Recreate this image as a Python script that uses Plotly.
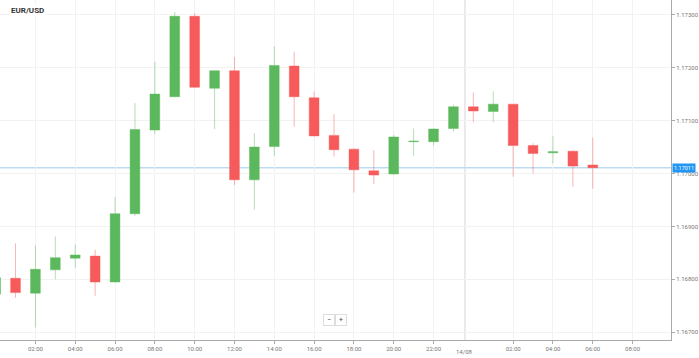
import plotly.graph_objects as go

hours = list(range(0, 31))
opens = [1.16772, 1.16802, 1.16774, 1.16818, 1.16840, 1.16844, 1.16795, 1.16924, 1.17082, 1.17145,
         1.17297, 1.17161, 1.17194, 1.16988, 1.17051, 1.17203, 1.17143, 1.17072, 1.17046, 1.17005,
         1.16999, 1.17060, 1.17060, 1.17085, 1.17126, 1.17117, 1.17131, 1.17053, 1.17039, 1.17042,
         1.17016]
highs = [1.16808, 1.16868, 1.16864, 1.16881, 1.16866, 1.16856, 1.16956, 1.17133, 1.17211, 1.17305,
         1.17303, 1.17194, 1.17220, 1.17076, 1.17240, 1.17230, 1.17155, 1.17112, 1.17047, 1.17044,
         1.17073, 1.17085, 1.17085, 1.17130, 1.17153, 1.17155, 1.17131, 1.17057, 1.17071, 1.17044,
         1.17068]
lows = [1.16767, 1.16765, 1.16709, 1.16800, 1.16822, 1.16769, 1.16794, 1.16920, 1.17074, 1.17144,
        1.17162, 1.17084, 1.16978, 1.16932, 1.17033, 1.17088, 1.17070, 1.17032, 1.16964, 1.16980,
        1.16998, 1.17033, 1.17053, 1.17079, 1.17097, 1.17097, 1.16994, 1.17000, 1.17019, 1.16975,
        1.16971]
closes = [1.16803, 1.16775, 1.16819, 1.16841, 1.16846, 1.16795, 1.16924, 1.17083, 1.17150, 1.17297,
          1.17163, 1.17194, 1.16988, 1.17050, 1.17204, 1.17145, 1.17071, 1.17045, 1.17007, 1.16997,
          1.17069, 1.17061, 1.17084, 1.17126, 1.17118, 1.17131, 1.17053, 1.17038, 1.17041, 1.17014,
          1.17011]

tick_hours = [2, 4, 6, 8, 10, 12, 14, 16, 18, 20, 22, 26, 28, 30, 32]
tick_labels = ["02:00", "04:00", "06:00", "08:00", "10:00", "12:00", "14:00", "16:00",
               "18:00", "20:00", "22:00", "02:00", "04:00", "06:00", "08:00"]
day_break = 23.58
day_label = "14/08"
price_ticks = [1.167, 1.168, 1.169, 1.170, 1.171, 1.172, 1.173]
price_labels = ["1.16700", "1.16800", "1.16900", "1.17000", "1.17100", "1.17200", "1.17300"]
current_price = 1.17011
title = "EUR/USD"

GREEN = "#5cb85c"
RED = "#f65a5a"

fig = go.Figure()
fig.add_trace(go.Candlestick(
    x=hours, open=opens, high=highs, low=lows, close=closes,
    increasing=dict(fillcolor=GREEN, line=dict(color="rgba(92,184,92,0.45)", width=1)),
    decreasing=dict(fillcolor=RED, line=dict(color="rgba(246,90,90,0.45)", width=1)),
    whiskerwidth=0, showlegend=False, hoverinfo="skip",
))

fig.add_shape(type="line", xref="x", yref="paper", x0=day_break, x1=day_break, y0=0, y1=1,
              line=dict(color="#d6d6d6", width=1), layer="below")
fig.add_shape(type="line", xref="paper", yref="y", x0=0, x1=1, y0=current_price, y1=current_price,
              line=dict(color="#bcdcf3", width=1.5), layer="below")

fig.add_annotation(xref="x", yref="paper", x=day_break, y=0, yshift=-17, text=day_label,
                   showarrow=False, font=dict(size=6, color="#777", family="Roboto"))
fig.add_annotation(xref="paper", yref="paper", x=0.014, y=1, yshift=-4, xanchor="left", yanchor="top",
                   text="<b>" + title + "</b>", showarrow=False, bgcolor="white",
                   font=dict(size=8, color="#333", family="Roboto"))
fig.add_annotation(xref="paper", yref="y", x=1, xshift=1, xanchor="left", y=current_price,
                   text=f"{current_price:.5f}", showarrow=False, bgcolor="#2196f3",
                   borderpad=1, font=dict(size=5.5, color="white", family="Roboto"))
fig.add_annotation(xref="paper", yref="paper", x=332 / 677, y=20 / 340, yanchor="middle",
                   xanchor="center", text="\u2212",
                   showarrow=False, bordercolor="#ddd", borderwidth=1, borderpad=1, bgcolor="white",
                   width=8, height=8, font=dict(size=7, color="#444"))
fig.add_annotation(xref="paper", yref="paper", x=344 / 677, y=20 / 340, yanchor="middle",
                   xanchor="center", text="+",
                   showarrow=False, bordercolor="#ddd", borderwidth=1, borderpad=1, bgcolor="white",
                   width=8, height=8, font=dict(size=7, color="#444"))

fig.update_layout(
    width=699, height=358,
    margin=dict(l=0, r=22, t=0, b=18),
    paper_bgcolor="white", plot_bgcolor="white",
    font=dict(family="Roboto", size=6, color="#777"),
    xaxis=dict(range=[0.22, 33.93], tickvals=tick_hours, ticktext=tick_labels,
               showgrid=True, gridcolor="#f2f2f2", showline=True, linecolor="#aaa",
               ticks="outside", ticklen=3, tickcolor="#aaa", zeroline=False,
               rangeslider=dict(visible=False), tickfont=dict(size=6, color="#777")),
    yaxis=dict(range=[1.166855, 1.173277], side="right", tickvals=price_ticks, ticktext=price_labels,
               showgrid=True, gridcolor="#f2f2f2", showline=True, linecolor="#aaa",
               ticks="outside", ticklen=3, tickcolor="#aaa", zeroline=False,
               tickfont=dict(size=6, color="#777")),
)

fig.write_html("out.html", config={"displayModeBar": False},
               post_script="document.body.style.margin='0px';document.body.style.overflow='hidden';")
